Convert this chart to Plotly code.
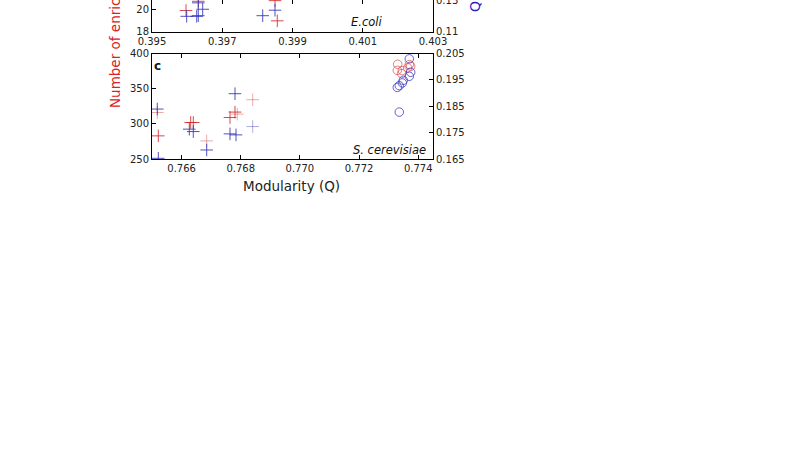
import plotly.graph_objects as go

# ---------------- data ----------------
# Top panel (E.coli): modularity vs number of enriched terms (red, left axis) / Q (blue, right axis)
ecoli_red_x = [0.395968, 0.396318, 0.398502, 0.398567]
ecoli_red_y = [19.95, 20.80, 20.86, 19.00]
ecoli_blue_x = [0.395988, 0.396273, 0.396318, 0.396318, 0.396443, 0.398152, 0.398502]
ecoli_blue_y = [0.1198, 0.1198, 0.1202, 0.1284, 0.1243, 0.1202, 0.1237]

# Bottom panel (S. cerevisiae)
sc_red_x = [0.765213, 0.766308, 0.766396, 0.767637, 0.767806]
sc_red_y = [282.9, 301.9, 301.9, 309.0, 316.7]
sc_red_faint_x = [0.765179, 0.766849, 0.767884, 0.768404]
sc_red_faint_y = [316.1, 275.7, 313.9, 334.3]
sc_blue_x = [0.765179, 0.765213, 0.766261, 0.766396, 0.766849, 0.767806, 0.767637, 0.767840]
sc_blue_y = [0.18393, 0.16526, 0.17631, 0.17540, 0.16842, 0.18976, 0.17452, 0.17414]
sc_blue_faint_x = [0.768404]
sc_blue_faint_y = [0.17730]
sc_red_circ_x = [0.773306, 0.773293, 0.773462, 0.773441, 0.773698, 0.773746, 0.773644]
sc_red_circ_y = [384.7, 376.1, 375.7, 371.4, 384.3, 381.9, 379.6]
sc_blue_circ_x = [0.773698, 0.773746, 0.773698, 0.773495, 0.773462, 0.773360, 0.773293, 0.773360]
sc_blue_circ_y = [0.20298, 0.19788, 0.19635, 0.19483, 0.19384, 0.19281, 0.19216, 0.18279]

top_xticks = [0.395, 0.397, 0.399, 0.401, 0.403]
top_yticks_left = [18, 20]
top_yticks_right = [0.11, 0.13]
bot_xticks = [0.766, 0.768, 0.770, 0.772, 0.774]
bot_yticks_left = [250, 300, 350, 400]
bot_yticks_right = [0.165, 0.175, 0.185, 0.195, 0.205]

# ---------------- styling ----------------
W, H = 800, 450
RED = "rgba(212,40,40,0.85)"
RED_FAINT = "rgba(212,40,40,0.4)"
BLUE = "rgba(50,50,185,0.85)"
BLUE_FAINT = "rgba(50,50,185,0.4)"
RED_CIRC = "rgba(220,70,70,0.7)"
BLUE_CIRC = "rgba(60,60,200,0.8)"
FONT = "DejaVu Sans"


def px(x):
    return x / W


def py(y):
    return 1 - y / H


def plus(x, y, color, xa, ya):
    return go.Scatter(x=x, y=y, mode="markers", xaxis=xa, yaxis=ya, showlegend=False,
                      marker=dict(symbol="cross-thin", size=9, color=color,
                                  line=dict(width=1, color=color)))


def circ(x, y, color, xa, ya):
    return go.Scatter(x=x, y=y, mode="markers", xaxis=xa, yaxis=ya, showlegend=False,
                      marker=dict(symbol="circle-open", size=8.5, color=color,
                                  line=dict(width=1, color=color)))


fig = go.Figure()
# top panel
fig.add_trace(plus(ecoli_red_x, ecoli_red_y, RED, "x2", "y3"))
fig.add_trace(plus(ecoli_blue_x, ecoli_blue_y, BLUE, "x2", "y4"))
# bottom panel
fig.add_trace(plus(sc_red_x, sc_red_y, RED, "x", "y"))
fig.add_trace(plus(sc_red_faint_x, sc_red_faint_y, RED_FAINT, "x", "y"))
fig.add_trace(plus(sc_blue_x, sc_blue_y, BLUE, "x", "y2"))
fig.add_trace(plus(sc_blue_faint_x, sc_blue_faint_y, BLUE_FAINT, "x", "y2"))
fig.add_trace(circ(sc_red_circ_x, sc_red_circ_y, RED_CIRC, "x", "y"))
fig.add_trace(circ(sc_blue_circ_x, sc_blue_circ_y, BLUE_CIRC, "x", "y2"))

xdom = [px(152), px(433)]
bot_ydom = [py(159), py(53.5)]
top_ydom = [py(31.7), 1.0]

axis_common = dict(showline=True, linecolor="black", linewidth=1, ticks="inside",
                   ticklen=4, tickcolor="black", showgrid=False, zeroline=False,
                   automargin=False, ticklabeloverflow="allow",
                   tickfont=dict(family=FONT, size=10, color="#222"))

fig.update_layout(
    width=W, height=H,
    margin=dict(l=0, r=0, t=0, b=0, pad=0, autoexpand=False),
    paper_bgcolor="white", plot_bgcolor="white",
    font=dict(family=FONT, color="#222"),
    showlegend=False,
    xaxis=dict(domain=xdom, anchor="y", range=[0.765, 0.7745], mirror="ticks",
               tickvals=bot_xticks, ticktext=[f"{v:.3f}" for v in bot_xticks], **axis_common),
    yaxis=dict(domain=bot_ydom, anchor="x", range=[250, 400],
               tickvals=bot_yticks_left, ticktext=[str(v) for v in bot_yticks_left], **axis_common),
    yaxis2=dict(overlaying="y", side="right", anchor="x", range=[0.165, 0.205],
                tickvals=bot_yticks_right, ticktext=[f"{v:.3f}" for v in bot_yticks_right], **axis_common),
    xaxis2=dict(domain=xdom, anchor="y3", range=[0.395, 0.403], mirror="ticks",
                tickvals=top_xticks, ticktext=[f"{v:.3f}" for v in top_xticks], **axis_common),
    yaxis3=dict(domain=top_ydom, anchor="x2", range=[18, 20.92],
                tickvals=top_yticks_left, ticktext=[str(v) for v in top_yticks_left], **axis_common),
    yaxis4=dict(overlaying="y3", side="right", anchor="x2", range=[0.11, 0.1302],
                tickvals=top_yticks_right, ticktext=[f"{v:.2f}" for v in top_yticks_right], **axis_common),
)

annotations = [
    dict(text="Number of enriched terms", textangle=-90, x=px(115), y=py(110),
         xanchor="center", yanchor="bottom", font=dict(family=FONT, size=13.5, color="#dd2020")),
    dict(text="Q", textangle=-90, x=px(475), y=py(14.5),
         xanchor="center", yanchor="bottom", font=dict(family=FONT, size=14, color="#2020c8")),
    dict(text="Modularity (Q)", x=px(291.5), y=py(185.5), xanchor="center", yanchor="middle",
         font=dict(family=FONT, size=13.5, color="#222")),
    dict(text="<i>E.coli</i>", x=px(384), y=py(21.7), xanchor="right", yanchor="middle",
         font=dict(family=FONT, size=11.5, color="#111")),
    dict(text="<i>S. cerevisiae</i>", x=px(428), y=py(150), xanchor="right", yanchor="middle",
         font=dict(family=FONT, size=11.5, color="#111")),
    dict(text="<b>c</b>", x=px(157), y=py(65.5), xanchor="center", yanchor="middle",
         font=dict(family=FONT, size=12, color="#111")),
]
for a in annotations:
    a.update(xref="paper", yref="paper", showarrow=False)
fig.update_layout(annotations=annotations)

fig.write_html("out.html", config={"displayModeBar": False},
               post_script="document.body.style.margin='0';")
